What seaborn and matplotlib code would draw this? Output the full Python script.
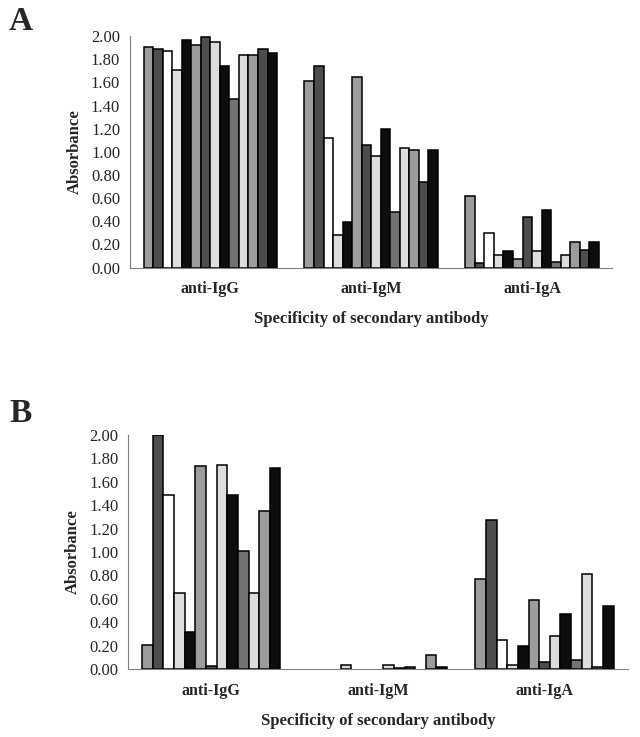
import matplotlib as mpl

mpl.use('Agg')
import matplotlib.pyplot as plt
import seaborn as sns
import pandas as pd
import numpy as np

sns.set_style("white")
plt.rcParams['font.family'] = ['Liberation Serif', 'DejaVu Serif']

antibodies = ['anti-IgG', 'anti-IgM', 'anti-IgA']

# panel A: 14 sera
a_igg = [1.91, 1.89, 1.87, 1.71, 1.97, 1.92, 1.99, 1.95, 1.74, 1.46, 1.84, 1.84, 1.89, 1.85]
a_igm = [1.61, 1.74, 1.12, 0.28, 0.39, 1.65, 1.06, 0.96, 1.20, 0.48, 1.03, 1.02, 0.74, 1.02]
a_iga = [0.62, 0.04, 0.30, 0.11, 0.14, 0.07, 0.44, 0.14, 0.50, 0.05, 0.11, 0.22, 0.15, 0.22]

# panel B: 13 sera
b_igg = [0.21, 2.00, 1.49, 0.65, 0.32, 1.73, 0.03, 1.74, 1.49, 1.01, 0.65, 1.35, 1.72]
b_igm = [0.00, 0.00, 0.00, 0.04, 0.00, 0.00, 0.00, 0.04, 0.01, 0.02, 0.00, 0.12, 0.02]
b_iga = [0.77, 1.27, 0.25, 0.04, 0.20, 0.59, 0.06, 0.28, 0.47, 0.08, 0.81, 0.02, 0.54]

grey, dark, white, light, black, mid = '#9c9c9c', '#4d4d4d', '#ffffff', '#dddddd', '#0d0d0d', '#727272'
colours_a = [grey, dark, white, light, black, grey, dark, light, black, mid, light, grey, dark, black]
colours_b = [grey, dark, white, light, black, grey, dark, light, black, mid, light, grey, black]


def make_frame(igg, igm, iga):
    rows = []
    for ab, vals in zip(antibodies, [igg, igm, iga]):
        for i, v in enumerate(vals):
            rows.append({'antibody': ab, 'serum': f'S{i + 1}', 'absorbance': v})
    return pd.DataFrame(rows)


def draw_panel(ax, df, colours, letter, letter_xy):
    sns.barplot(data=df, x='antibody', y='absorbance', hue='serum', order=antibodies,
                palette=colours, width=0.83, saturation=1, edgecolor='black', linewidth=1.1,
                legend=False, ax=ax)
    # zero readings leave no visible bar
    for p in ax.patches:
        if p.get_height() == 0:
            p.set_linewidth(0)
    ax.set_xlim(-0.5, 2.5)
    ax.set_ylim(0, 2.0)
    ax.set_yticks(np.arange(0, 2.01, 0.2))
    ax.yaxis.set_major_formatter(mpl.ticker.FormatStrFormatter('%.2f'))
    ax.set_xticks([-0.5, 0.5, 1.5, 2.5], minor=True)
    ax.tick_params(axis='x', which='major', length=0, pad=10, labelsize=11.5)
    ax.tick_params(axis='x', which='minor', length=4, width=0.8, color='#808080', direction='out')
    ax.tick_params(axis='y', length=4, width=0.8, color='#808080', direction='out', pad=3, labelsize=12)
    for lab in ax.get_xticklabels():
        lab.set_fontweight('bold')
    for s in ['top', 'right']:
        ax.spines[s].set_visible(False)
    for s in ['left', 'bottom']:
        ax.spines[s].set_color('#808080')
        ax.spines[s].set_linewidth(0.8)
    ax.set_ylabel('Absorbance', fontsize=12, fontweight='bold', labelpad=6)
    ax.set_xlabel('Specificity of secondary antibody', fontsize=12, fontweight='bold', labelpad=10)
    fig.text(letter_xy[0], letter_xy[1], letter, fontsize=24, fontweight='bold', ha='center', va='center')


fig = plt.figure(figsize=(6.4, 7.37), dpi=100)
ax_a = fig.add_axes([0.203, 0.637, 0.754, 0.314])
ax_b = fig.add_axes([0.200, 0.092, 0.781, 0.318])

draw_panel(ax_a, make_frame(a_igg, a_igm, a_iga), colours_a, 'A', (21 / 640, 1 - 21 / 737))
draw_panel(ax_b, make_frame(b_igg, b_igm, b_iga), colours_b, 'B', (21 / 640, 1 - 413 / 737))

fig.savefig('out.png', dpi=100, facecolor='white')
